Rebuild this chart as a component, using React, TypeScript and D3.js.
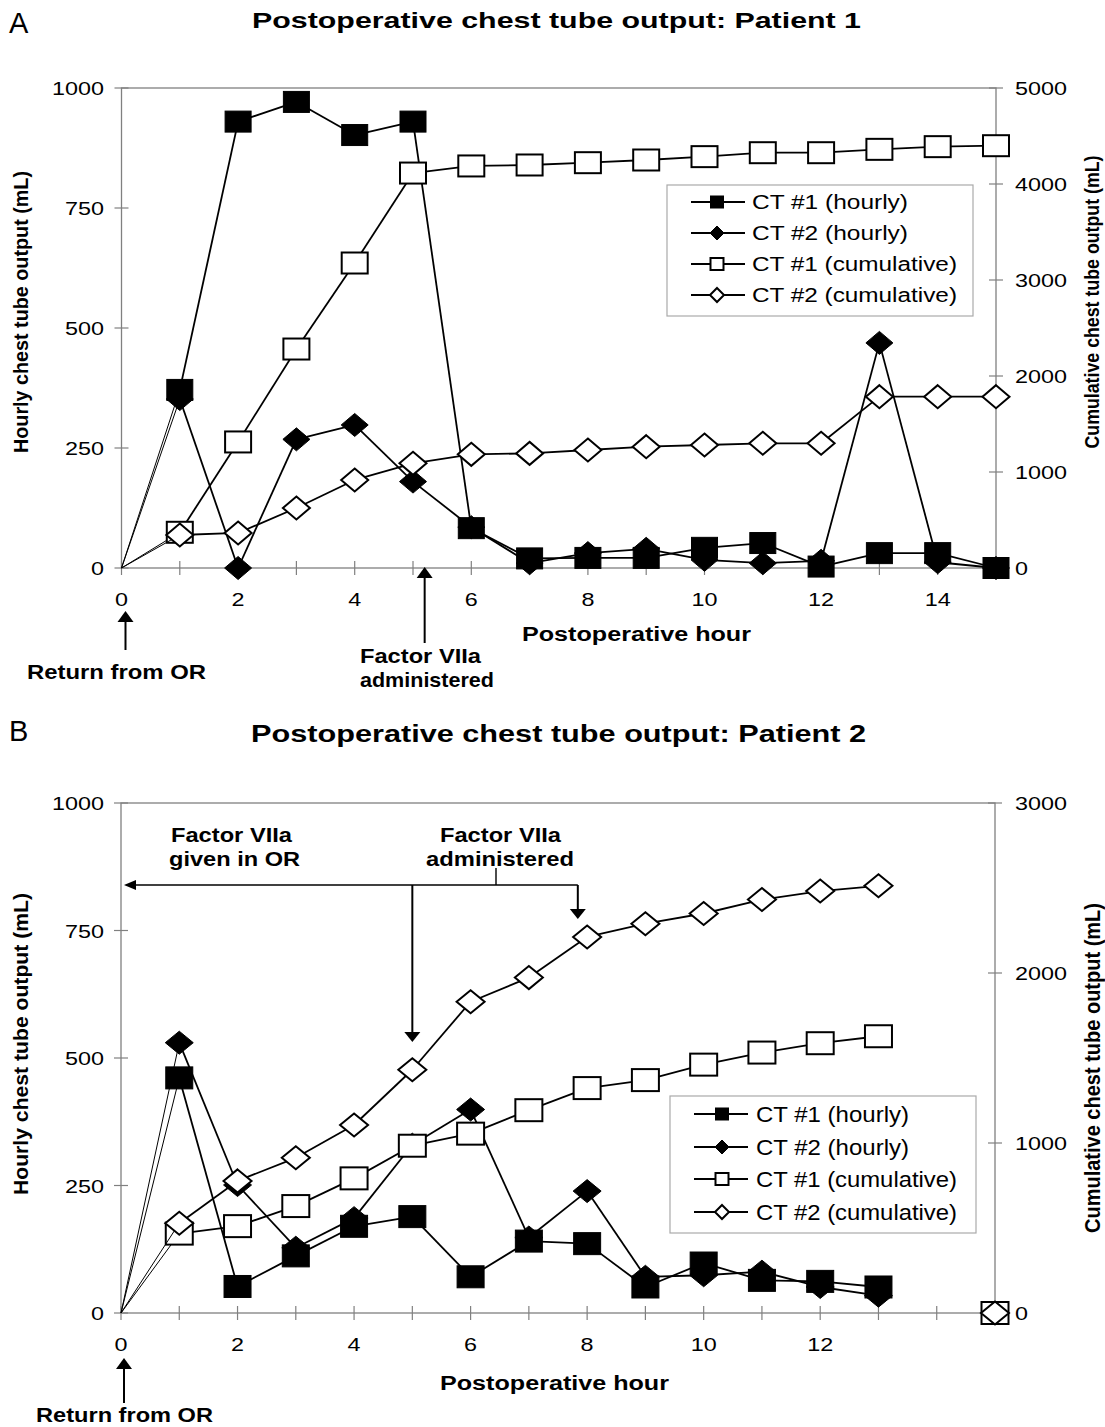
import React from 'react';
import * as d3 from 'd3';

// ---------- DATA ----------
const hoursA = [0, 1, 2, 3, 4, 5, 6, 7, 8, 9, 10, 11, 12, 13, 14, 15];
const aCt1Hourly = [0, 371, 930, 971, 902, 930, 83, 20, 21, 21, 42, 52, 3, 31, 31, 0];
const aCt2Hourly = [0, 352, 0, 268, 298, 180, 85, 10, 31, 40, 17, 10, 15, 469, 12, 0];
const aCt1Cum = [0, 372, 1313, 2281, 3177, 4114, 4188, 4198, 4222, 4250, 4285, 4326, 4326, 4361, 4389, 4399];
const aCt2Cum = [0, 344, 365, 625, 917, 1090, 1184, 1194, 1229, 1264, 1281, 1299, 1299, 1785, 1785, 1785];

const hoursB = [0, 1, 2, 3, 4, 5, 6, 7, 8, 9, 10, 11, 12, 13, 14, 15];
const bCt1Hourly = [0, 461, 52, 112, 170, 189, 71, 141, 136, 51, 98, 64, 62, 51];
const bCt2Hourly = [0, 530, 251, 128, 186, 330, 399, 148, 239, 71, 74, 81, 51, 34];
const bCt1Cum: (number | null)[] = [0, 467, 511, 629, 792, 984, 1055, 1193, 1323, 1370, 1461, 1532, 1587, 1628, null, 0];
const bCt2Cum: (number | null)[] = [0, 528, 777, 913, 1106, 1431, 1831, 1973, 2212, 2290, 2350, 2432, 2482, 2513, null, 0];

const leftTicks = [0, 250, 500, 750, 1000];
const rightTicksA = [0, 1000, 2000, 3000, 4000, 5000];
const rightTicksB = [0, 1000, 2000, 3000];
const xLabelsA = [0, 2, 4, 6, 8, 10, 12, 14];
const xLabelsB = [0, 2, 4, 6, 8, 10, 12];
const xTickHours = [0, 1, 2, 3, 4, 5, 6, 7, 8, 9, 10, 11, 12, 13, 14, 15];

const seriesNames = ['CT #1  (hourly)', 'CT #2  (hourly)', 'CT #1  (cumulative)', 'CT #2  (cumulative)'];

const FONT = '"Liberation Sans", Arial, Helvetica, sans-serif';

type TProps = {
  x: number; y: number; size: number; len?: number; anchor?: 'start' | 'middle' | 'end';
  bold?: boolean; children: React.ReactNode; transform?: string;
};
function T({ x, y, size, len, anchor = 'start', bold, children, transform }: TProps) {
  return (
    <text x={x} y={y} fontSize={size} fontFamily={FONT} fontWeight={bold ? 'bold' : 'normal'}
      textAnchor={anchor} textLength={len} lengthAdjust={len ? 'spacingAndGlyphs' : undefined}
      transform={transform} fill="#000">
      {children}
    </text>
  );
}

function Square({ cx, cy, w, h, filled }: { cx: number; cy: number; w: number; h: number; filled: boolean }) {
  return <rect x={cx - w / 2} y={cy - h / 2} width={w} height={h}
    fill={filled ? '#000' : '#fff'} stroke="#000" strokeWidth={filled ? 1 : 2} />;
}
function Diamond({ cx, cy, w, h, filled }: { cx: number; cy: number; w: number; h: number; filled: boolean }) {
  const p = `M${cx},${cy - h / 2}L${cx + w / 2},${cy}L${cx},${cy + h / 2}L${cx - w / 2},${cy}Z`;
  return <path d={p} fill={filled ? '#000' : '#fff'} stroke="#000" strokeWidth={filled ? 1 : 2} strokeLinejoin="miter" />;
}

type PanelCfg = {
  x0: number; x1: number; yTop: number; yBot: number; rightMax: number;
  rightTicks: number[]; xLabels: number[]; hours: number[];
  ct1h: (number | null)[]; ct2h: (number | null)[]; ct1c: (number | null)[]; ct2c: (number | null)[];
  sq: [number, number]; dm: [number, number];
};

function Series({ vals, hours, x, y, kind, filled, sq, dm }: {
  vals: (number | null)[]; hours: number[]; x: d3.ScaleLinear<number, number>; y: d3.ScaleLinear<number, number>;
  kind: 'sq' | 'dm'; filled: boolean; sq: [number, number]; dm: [number, number];
}) {
  const pts = vals.map((v, i) => ({ h: hours[i], v }));
  const segs: JSX.Element[] = [];
  for (let i = 0; i < pts.length - 1; i++) {
    const a = pts[i], b = pts[i + 1];
    if (a.v == null || b.v == null) continue;
    segs.push(<line key={'s' + i} x1={x(a.h)} y1={y(a.v)} x2={x(b.h)} y2={y(b.v)}
      stroke="#000" strokeWidth={i === 0 ? 1 : 1.8} />);
  }
  const marks = pts.filter((p, i) => i > 0 && p.v != null).map((p, i) =>
    kind === 'sq'
      ? <Square key={'m' + i} cx={x(p.h)} cy={y(p.v as number)} w={sq[0]} h={sq[1]} filled={filled} />
      : <Diamond key={'m' + i} cx={x(p.h)} cy={y(p.v as number)} w={dm[0]} h={dm[1]} filled={filled} />);
  return <g>{segs}{marks}</g>;
}

function Panel(c: PanelCfg) {
  const x = d3.scaleLinear().domain([0, 15]).range([c.x0, c.x1]);
  const yL = d3.scaleLinear().domain([0, 1000]).range([c.yBot, c.yTop]);
  const yR = d3.scaleLinear().domain([0, c.rightMax]).range([c.yBot, c.yTop]);
  const axisC = '#808080';
  return (
    <g>
      <rect x={c.x0} y={c.yTop} width={c.x1 - c.x0} height={c.yBot - c.yTop} fill="none" stroke={axisC} strokeWidth={1.3} />
      {leftTicks.map(t => (
        <g key={'l' + t}>
          <line x1={c.x0 - 7} x2={c.x0 + 7} y1={yL(t)} y2={yL(t)} stroke={axisC} strokeWidth={1.2} />
          <T x={104} y={yL(t) + 7} size={19} anchor="end" len={String(t).length * 13}>{t}</T>
        </g>
      ))}
      {c.rightTicks.map(t => (
        <g key={'r' + t}>
          <line x1={c.x1 - 7} x2={c.x1 + 7} y1={yR(t)} y2={yR(t)} stroke={axisC} strokeWidth={1.2} />
          <T x={1015} y={yR(t) + 7} size={19} len={String(t).length * 13}>{t}</T>
        </g>
      ))}
      {xTickHours.map(h => (
        <line key={'x' + h} x1={x(h)} x2={x(h)} y1={c.yBot - 7} y2={c.yBot + 7} stroke={axisC} strokeWidth={1.2} />
      ))}
      {c.xLabels.map(h => (
        <T key={'xl' + h} x={x(h)} y={c.yBot + 38} size={19} anchor="middle" len={String(h).length * 13}>{h}</T>
      ))}
      <Series vals={c.ct2h} hours={c.hours} x={x} y={yL} kind="dm" filled sq={c.sq} dm={c.dm} />
      <Series vals={c.ct1h} hours={c.hours} x={x} y={yL} kind="sq" filled sq={c.sq} dm={c.dm} />
      <Series vals={c.ct1c} hours={c.hours} x={x} y={yR} kind="sq" filled={false} sq={c.sq} dm={c.dm} />
      <Series vals={c.ct2c} hours={c.hours} x={x} y={yR} kind="dm" filled={false} sq={c.sq} dm={c.dm} />
    </g>
  );
}

function Legend({ x0, y0, w, h, rows, lx1, lx2, mx, tx, size, lens }: {
  x0: number; y0: number; w: number; h: number; rows: number[]; lx1: number; lx2: number; mx: number; tx: number;
  size: number; lens: number[];
}) {
  return (
    <g>
      <rect x={x0} y={y0} width={w} height={h} fill="#fff" stroke="#aaa" strokeWidth={1.2} />
      {seriesNames.map((n, i) => (
        <g key={n}>
          <line x1={lx1} x2={lx2} y1={rows[i]} y2={rows[i]} stroke="#000" strokeWidth={1.8} />
          {i === 0 && <Square cx={mx} cy={rows[i]} w={13} h={12} filled />}
          {i === 1 && <Diamond cx={mx} cy={rows[i]} w={14} h={14} filled />}
          {i === 2 && <Square cx={mx} cy={rows[i]} w={13} h={12} filled={false} />}
          {i === 3 && <Diamond cx={mx} cy={rows[i]} w={14} h={14} filled={false} />}
          <T x={tx} y={rows[i] + size * 0.36} size={size} len={lens[i]}>{n}</T>
        </g>
      ))}
    </g>
  );
}

function UpArrow({ x, tip, bottom }: { x: number; tip: number; bottom: number }) {
  return (
    <g>
      <line x1={x} x2={x} y1={tip + 8} y2={bottom} stroke="#000" strokeWidth={2} />
      <path d={`M${x},${tip}L${x + 8},${tip + 11}L${x - 8},${tip + 11}Z`} fill="#000" />
    </g>
  );
}
function DownArrow({ x, top, tip }: { x: number; top: number; tip: number }) {
  return (
    <g>
      <line x1={x} x2={x} y1={top} y2={tip - 8} stroke="#000" strokeWidth={2} />
      <path d={`M${x},${tip}L${x + 8},${tip - 10}L${x - 8},${tip - 10}Z`} fill="#000" />
    </g>
  );
}

export default function App() {
  const xA = d3.scaleLinear().domain([0, 15]).range([121.5, 996]);
  const xB = d3.scaleLinear().domain([0, 15]).range([121, 995]);
  return (
    <div style={{ position: 'absolute', left: 0, top: 0 }}>
      <svg width={1105} height={1427} viewBox="0 0 1105 1427" style={{ display: 'block', background: '#fff' }}>
        <rect x={0} y={0} width={1105} height={1427} fill="#fff" />
        {/* ===== Panel A ===== */}
        <T x={9} y={33} size={29}>A</T>
        <T x={252} y={28} size={22} bold len={609}>Postoperative chest tube output: Patient 1</T>
        <Panel x0={121.5} x1={996} yTop={88} yBot={568} rightMax={5000} rightTicks={rightTicksA}
          xLabels={xLabelsA} hours={hoursA} ct1h={aCt1Hourly} ct2h={aCt2Hourly} ct1c={aCt1Cum} ct2c={aCt2Cum}
          sq={[26, 21]} dm={[27, 23]} />
        <T x={0} y={0} size={21} bold anchor="middle" len={282} transform="translate(28,312) rotate(-90)">Hourly chest tube output (mL)</T>
        <T x={0} y={0} size={21} bold anchor="middle" len={293} transform="translate(1099,302) rotate(-90)">Cumulative chest tube output (mL)</T>
        <T x={522} y={641} size={20} bold len={229}>Postoperative hour</T>
        <Legend x0={667} y0={185} w={306} h={131} rows={[202, 233, 264, 295]} lx1={691} lx2={745} mx={717} tx={752}
          size={20} lens={[156, 156, 205, 205]} />
        <UpArrow x={xA(0) + 4} tip={611} bottom={650} />
        <T x={27} y={679} size={21} bold len={179}>Return from OR</T>
        <UpArrow x={xA(5.2)} tip={567} bottom={643} />
        <T x={360} y={663} size={21} bold len={121}>Factor VIIa</T>
        <T x={360} y={687} size={21} bold len={134}>administered</T>

        {/* ===== Panel B ===== */}
        <T x={9} y={741} size={29}>B</T>
        <T x={251} y={742} size={23} bold len={615}>Postoperative chest tube output: Patient 2</T>
        <Panel x0={121} x1={995} yTop={803} yBot={1313} rightMax={3000} rightTicks={rightTicksB}
          xLabels={xLabelsB} hours={hoursB} ct1h={bCt1Hourly} ct2h={bCt2Hourly} ct1c={bCt1Cum} ct2c={bCt2Cum}
          sq={[27, 22]} dm={[28, 23]} />
        <T x={0} y={0} size={21} bold anchor="middle" len={302} transform="translate(28,1044) rotate(-90)">Hourly chest tube output (mL)</T>
        <T x={0} y={0} size={22} bold anchor="middle" len={330} transform="translate(1100,1068) rotate(-90)">Cumulative chest tube output (mL)</T>
        <T x={440} y={1390} size={20} bold len={229}>Postoperative hour</T>
        <Legend x0={670} y0={1096} w={306} h={137} rows={[1114, 1147, 1179, 1212]} lx1={694} lx2={748} mx={722} tx={756}
          size={22} lens={[153, 153, 201, 201]} />
        <UpArrow x={xB(0) + 3} tip={1358} bottom={1403} />
        <T x={36} y={1422} size={20} bold len={177}>Return from OR</T>
        <T x={171} y={842} size={21} bold len={121}>Factor VIIa</T>
        <T x={169} y={866} size={21} bold len={131}>given in OR</T>
        <T x={440} y={842} size={21} bold len={121}>Factor VIIa</T>
        <T x={426} y={866} size={21} bold len={148}>administered</T>
        {/* bracket annotation */}
        <line x1={xB(0) + 10} x2={xB(7.84)} y1={885} y2={885} stroke="#000" strokeWidth={1.6} />
        <path d={`M${xB(0) + 3},885L${xB(0) + 15},880L${xB(0) + 15},890Z`} fill="#000" />
        <line x1={496} x2={496} y1={868} y2={885} stroke="#000" strokeWidth={1.4} />
        <DownArrow x={xB(5)} top={885} tip={1042} />
        <DownArrow x={xB(7.84)} top={885} tip={919} />
      </svg>
    </div>
  );
}
